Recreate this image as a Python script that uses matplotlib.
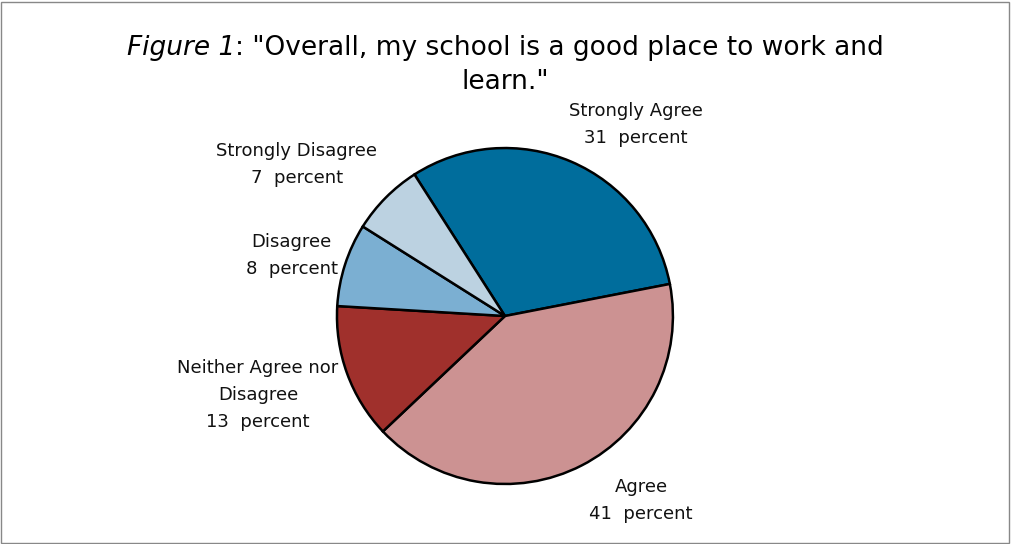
import matplotlib.pyplot as plt
from matplotlib.patches import Rectangle

categories = ["Strongly Agree", "Agree", "Neither Agree nor\nDisagree", "Disagree", "Strongly Disagree"]
values = [31, 41, 13, 8, 7]
colors = ["#006d9c", "#cc9292", "#a0302c", "#7bafd2", "#bcd2e1"]
# label centres, in units of the pie radius
label_pos = [(0.78, 1.14), (0.81, -1.10), (-1.47, -0.47), (-1.27, 0.36), (-1.24, 0.90)]

fig = plt.figure(figsize=(10.11, 5.44), dpi=100)
fig.patches.append(Rectangle((0.001, 0.002), 0.997, 0.995, transform=fig.transFigure,
                             fill=False, edgecolor="#888888", linewidth=1))

ax = fig.add_axes([0.3333, 0.1103, 0.3323, 0.6176])
ax.pie(values, colors=colors, startangle=122.6, counterclock=False, radius=1,
       wedgeprops=dict(edgecolor="black", linewidth=1.8))
ax.set_xlim(-1, 1)
ax.set_ylim(-1, 1)
ax.set_aspect("equal")
ax.axis("off")

for cat, val, (x, y) in zip(categories, values, label_pos):
    ax.text(x, y, f"{cat}\n{val}  percent", ha="center", va="center",
            fontsize=13, family="DejaVu Sans", linespacing=1.65, color="#111111")

# title: italic "Figure 1" followed by upright text, centred as one line
tsize = 19
t1 = fig.text(0, 0.912, "Figure 1", fontsize=tsize, style="italic", family="DejaVu Sans",
              ha="left", va="center")
t2 = fig.text(0, 0.912, ': "Overall, my school is a good place to work and', fontsize=tsize,
              family="DejaVu Sans", ha="left", va="center")
r = fig.canvas.get_renderer()
w1 = t1.get_window_extent(r).width / fig.bbox.width
w2 = t2.get_window_extent(r).width / fig.bbox.width
x0 = 0.5 - (w1 + w2) / 2
t1.set_x(x0)
t2.set_x(x0 + w1)
fig.text(0.5, 0.85, 'learn."', fontsize=tsize, family="DejaVu Sans", ha="center", va="center")

fig.savefig("out.png", dpi=100)
